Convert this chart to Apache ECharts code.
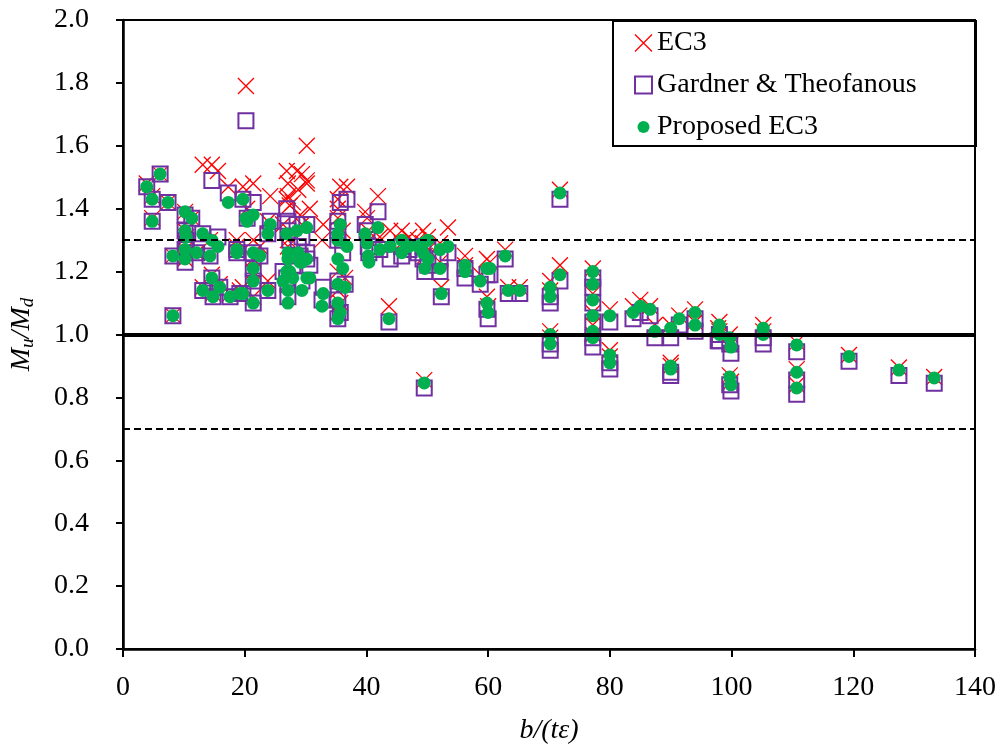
<!DOCTYPE html>
<html>
<head>
<meta charset="utf-8">
<script src="https://cdn.jsdelivr.net/npm/echarts@6/dist/echarts.min.js"></script>
<style>html,body{margin:0;padding:0;background:#fff;}#chart{width:1005px;height:747px;}</style>
</head>
<body>
<div id="chart"></div>
<script>
// slenderness b/(t*eps) of each specimen
var slenderness = [3.9,4.8,4.8,6.1,7.4,8.2,8.2,10.2,11.3,10.2,10.4,10.2,10.2,12.1,13.1,14.6,15.6,14.3,13.1,14.8,14.6,15.9,17.3,17.6,18.7,19.2,19.7,20.2,18.7,21.4,20.4,21.4,22.5,21.4,21.4,21.4,19.7,24.2,23.8,23.8,26.9,27.1,27.1,27.4,28.6,29.4,30.2,30.2,30.2,27.9,26.3,27.1,27.1,29.1,29.4,30.7,26.9,28.8,32.9,32.7,35.7,35.3,35.3,35.3,36.1,35.3,36.5,35.3,35.7,35.3,36.8,41.9,39.8,40.1,40.3,40.4,42.2,43.9,45.8,45.8,43.7,47.0,49.3,50.1,49.3,50.1,49.6,53.4,52.1,52.1,52.3,49.5,48.5,56.2,56.2,58.7,59.8,60.3,59.8,60.0,62.8,63.3,65.2,70.2,70.2,71.8,71.8,70.2,70.2,77.2,77.2,77.2,77.2,77.2,77.2,80,80,80,83.8,85,86.6,87.4,90,90,90,91.4,94,94,97.8,98,98,99.7,99.9,99.7,99.9,105.2,105.2,110.7,110.7,110.7,119.3,127.5,133.3];
// Mu/Md ratios
var ec3 = [1.48,1.44,1.37,1.51,1.42,1.25,1.06,1.39,1.37,1.33,1.31,1.27,1.24,1.26,1.54,1.54,1.52,1.30,1.15,1.13,1.19,1.16,1.47,1.13,1.28,1.14,1.47,1.79,1.30,1.48,1.40,1.30,1.28,1.24,1.20,1.12,1.15,1.44,1.36,1.17,1.52,1.48,1.44,1.41,1.52,1.51,1.48,1.49,1.60,1.42,1.35,1.30,1.28,1.38,1.35,1.40,1.43,1.46,1.35,1.30,1.47,1.43,1.40,1.37,1.33,1.20,1.18,1.14,1.10,1.07,1.47,1.44,1.39,1.37,1.33,1.30,1.31,1.33,1.33,1.29,1.09,1.31,1.33,1.31,1.29,1.27,1.25,1.34,1.29,1.23,1.15,0.855,1.30,1.25,1.22,1.19,1.24,1.23,1.12,1.09,1.27,1.15,1.15,1.17,1.14,1.22,1.46,1.01,0.99,1.21,1.18,1.13,1.07,1.03,1.00,1.08,0.95,0.93,1.09,1.11,1.09,1.03,1.03,0.91,0.90,1.06,1.08,1.04,1.02,1.04,1.01,1.00,0.97,0.87,0.85,1.03,1.01,0.975,0.89,0.84,0.935,0.895,0.865];
var gardner = [1.47,1.43,1.36,1.51,1.42,1.25,1.06,1.38,1.37,1.33,1.30,1.27,1.23,1.26,1.32,1.49,1.31,1.25,1.14,1.12,1.18,1.15,1.45,1.12,1.27,1.13,1.43,1.68,1.26,1.42,1.37,1.26,1.25,1.21,1.17,1.10,1.13,1.36,1.32,1.14,1.40,1.36,1.33,1.30,1.35,1.31,1.35,1.26,1.24,1.22,1.20,1.16,1.12,1.25,1.17,1.22,1.18,1.28,1.15,1.11,1.42,1.36,1.33,1.30,1.26,1.17,1.16,1.11,1.07,1.05,1.43,1.39,1.35,1.33,1.28,1.26,1.27,1.24,1.28,1.25,1.04,1.27,1.28,1.27,1.24,1.22,1.20,1.26,1.24,1.20,1.12,0.83,1.26,1.21,1.18,1.16,1.19,1.19,1.08,1.05,1.24,1.13,1.13,1.12,1.10,1.17,1.43,0.97,0.95,1.18,1.15,1.10,1.04,0.99,0.96,1.04,0.91,0.89,1.05,1.07,1.06,0.99,0.99,0.88,0.87,1.03,1.05,1.01,0.98,1.00,0.98,0.97,0.94,0.84,0.82,0.99,0.97,0.945,0.855,0.81,0.915,0.87,0.845];
var proposed = [1.47,1.43,1.36,1.51,1.42,1.25,1.06,1.39,1.37,1.33,1.31,1.27,1.24,1.26,1.32,1.30,1.28,1.25,1.14,1.12,1.18,1.15,1.42,1.12,1.27,1.13,1.43,1.37,1.26,1.38,1.36,1.26,1.25,1.21,1.17,1.10,1.13,1.35,1.32,1.14,1.32,1.26,1.24,1.20,1.33,1.23,1.34,1.24,1.18,1.18,1.17,1.14,1.10,1.23,1.14,1.18,1.20,1.26,1.13,1.09,1.35,1.32,1.30,1.24,1.21,1.16,1.15,1.10,1.07,1.05,1.28,1.34,1.32,1.29,1.25,1.23,1.27,1.28,1.30,1.26,1.05,1.28,1.29,1.30,1.26,1.24,1.21,1.28,1.27,1.21,1.13,0.846,1.28,1.22,1.20,1.17,1.21,1.21,1.10,1.07,1.25,1.14,1.14,1.15,1.12,1.19,1.45,1.00,0.97,1.20,1.16,1.11,1.06,1.01,0.99,1.06,0.935,0.91,1.07,1.09,1.08,1.01,1.02,0.90,0.89,1.05,1.07,1.03,1.01,1.03,1.00,0.99,0.96,0.865,0.84,1.02,1.00,0.967,0.88,0.83,0.93,0.887,0.862];
var xTicks = [0,20,40,60,80,100,120,140];
var seriesNames = ['EC3','Gardner & Theofanous','Proposed EC3'];

function pairs(vals){ return slenderness.map(function(x,i){ return [x, vals[i]]; }); }

var FONT = '"Liberation Serif","Times New Roman",serif';
var crossPath = 'path://M0,0L10,10M10,0L0,10';
var dotIcon = 'path://M0,0M17,17M2.5,8.5a6,6 0 1,0 12,0a6,6 0 1,0 -12,0Z';
var chart = echarts.init(document.getElementById('chart'), null, {renderer:'canvas'});
chart.setOption({
  animation:false,
  backgroundColor:'#fff',
  grid:{left:123,right:30,top:20,bottom:98,containLabel:false,outerBoundsMode:'none',
        show:true,borderColor:'#000',borderWidth:2,backgroundColor:'transparent'},
  xAxis:{type:'value',min:xTicks[0],max:xTicks[xTicks.length-1],interval:20,
    name:'{i|b/(tε)}',nameLocation:'middle',nameGap:68,
    nameTextStyle:{rich:{i:{fontFamily:FONT,fontStyle:'italic',fontSize:28,color:'#000'}}},
    axisLine:{lineStyle:{color:'#000',width:2.5}},
    axisTick:{length:8,lineStyle:{color:'#000',width:2}},
    axisLabel:{fontFamily:FONT,fontSize:28,color:'#000',margin:25},
    splitLine:{show:false}},
  yAxis:{type:'value',min:0,max:2,interval:0.2,
    name:'{a|M}{b|u}{a|/M}{b|d}',nameLocation:'middle',nameGap:86,
    nameTextStyle:{rich:{a:{fontFamily:FONT,fontStyle:'italic',fontSize:28,color:'#000',lineHeight:30},
                         b:{fontFamily:FONT,fontStyle:'italic',fontSize:19,color:'#000',verticalAlign:'bottom',lineHeight:22}}},
    axisLine:{lineStyle:{color:'#000',width:2.5}},
    axisTick:{length:7,lineStyle:{color:'#000',width:2}},
    axisLabel:{fontFamily:FONT,fontSize:28,color:'#000',margin:34,formatter:function(v){return v.toFixed(1);}},
    splitLine:{show:false}},
  legend:{orient:'vertical',left:634,top:29,itemGap:14,itemWidth:17,itemHeight:17,padding:0,
    textStyle:{fontFamily:FONT,fontSize:28,color:'#000'},
    data:[{name:seriesNames[0],icon:crossPath,itemStyle:{color:'transparent',borderColor:'#ff0000',borderWidth:1.3}},
          {name:seriesNames[1],icon:'rect',itemStyle:{color:'transparent',borderColor:'#7030A0',borderWidth:2}},
          {name:seriesNames[2],icon:dotIcon,itemStyle:{color:'#00B050'}}]},
  graphic:[{type:'rect',left:612,top:20,shape:{width:363,height:125},style:{fill:'transparent',stroke:'#000',lineWidth:2},z:100,silent:true}],
  series:[
    {name:seriesNames[0],type:'scatter',symbol:crossPath,symbolSize:16,data:pairs(ec3),
     itemStyle:{color:'transparent',borderColor:'#ff0000',borderWidth:1.3,opacity:1},
     markLine:{silent:true,symbol:'none',label:{show:false},
       data:[{yAxis:1.0,lineStyle:{color:'#000',width:4,type:'solid'}},
             {yAxis:1.3,lineStyle:{color:'#000',width:2,type:[7,4]}},
             {yAxis:0.7,lineStyle:{color:'#000',width:2,type:[7,4]}}]}},
    {name:seriesNames[1],type:'scatter',symbol:'rect',symbolSize:15,data:pairs(gardner),
     itemStyle:{color:'transparent',borderColor:'#7030A0',borderWidth:2,opacity:1}},
    {name:seriesNames[2],type:'scatter',symbol:'circle',symbolSize:13,data:pairs(proposed),
     itemStyle:{color:'#00B050',opacity:1}}
  ]
});
</script>
</body>
</html>
